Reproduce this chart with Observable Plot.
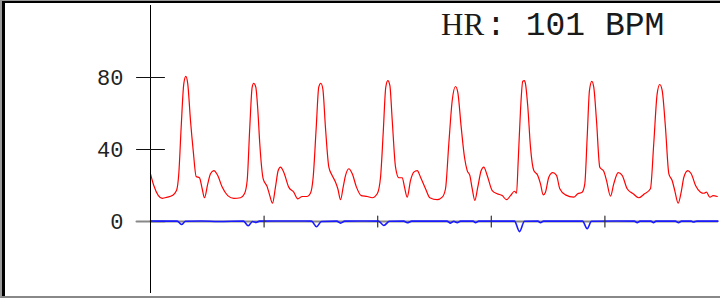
<!DOCTYPE html>
<html>
<head>
<meta charset="utf-8">
<script src="https://cdn.jsdelivr.net/npm/d3@7"></script>
<script src="https://cdn.jsdelivr.net/npm/@observablehq/plot@0.6"></script>
<style>
  html, body { margin: 0; padding: 0; background: #fff; }
  #wrap { position: relative; width: 720px; height: 298px; overflow: hidden; }
  #wrap svg { display: block; }
  #frameOuter { position: absolute; left: 0; top: 0; width: 720px; height: 298px; box-sizing: border-box;
    border-top: 1px solid #999; border-left: 2px solid #999; border-bottom: 2px solid #888; pointer-events: none; }
  #frameInner { position: absolute; left: 0; top: 0; right: 0; bottom: 0; box-sizing: border-box;
    border-top: 2px solid #000; border-left: 3px solid #000; }
</style>
</head>
<body>
<div id="wrap"><div id="frameOuter"><div id="frameInner"></div></div></div>
<script>
// ---- data (time in seconds, pressure values) ----
const titleLabel = "HR";
const titleValue = ": 101 BPM";
const yTicks = [0, 40, 80];
const xTicks = [1, 2, 3, 4];

const redT = [0.000,0.029,0.103,0.147,0.191,0.229,0.249,0.270,0.293,0.311,0.328,0.352,0.376,0.402,0.431,0.455,0.475,0.504,0.528,0.557,0.592,0.631,0.680,0.733,0.792,0.827,0.851,0.874,0.895,0.909,0.927,0.945,0.962,0.992,1.027,1.050,1.074,1.100,1.124,1.144,1.173,1.217,1.261,1.297,1.335,1.379,1.408,1.432,1.459,1.481,1.499,1.517,1.540,1.570,1.599,1.629,1.649,1.673,1.696,1.717,1.746,1.776,1.813,1.855,1.908,1.952,1.996,2.025,2.048,2.071,2.089,2.107,2.128,2.157,2.186,2.216,2.236,2.260,2.289,2.318,2.348,2.377,2.421,2.459,2.524,2.568,2.597,2.626,2.656,2.685,2.705,2.735,2.764,2.788,2.811,2.832,2.855,2.881,2.911,2.934,2.964,3.008,3.052,3.096,3.134,3.169,3.204,3.222,3.237,3.257,3.277,3.292,3.301,3.321,3.345,3.374,3.409,3.433,3.457,3.477,3.506,3.541,3.574,3.603,3.653,3.726,3.761,3.800,3.823,3.844,3.864,3.885,3.902,3.926,3.955,3.990,4.014,4.049,4.078,4.117,4.152,4.196,4.249,4.298,4.349,4.401,4.430,4.460,4.483,4.504,4.533,4.563,4.592,4.615,4.645,4.674,4.695,4.730,4.760,4.798,4.842,4.871,4.894,4.924,4.953,4.989];
const redV = [26.5,20.0,12.9,13.5,14.4,17.2,26.5,52.4,76.5,80.6,76.5,56.1,39.4,25.0,24.3,18.2,13.2,20.9,26.5,28.3,25.6,19.1,14.4,12.9,13.2,15.4,22.8,52.4,74.6,76.8,74.6,61.7,43.2,23.7,19.4,14.4,10.2,19.1,28.3,30.2,27.4,19.1,16.3,12.6,13.9,13.9,15.7,24.6,52.4,74.6,76.8,73.7,52.4,30.2,25.6,21.8,18.2,12.1,19.1,25.6,29.3,26.5,19.1,14.4,13.9,13.2,15.4,24.6,48.7,74.6,78.3,75.6,56.1,30.2,24.3,24.3,19.1,13.5,22.8,27.4,28.3,24.6,18.2,13.2,12.1,13.5,18.2,43.2,67.2,75.0,71.8,52.4,35.7,28.3,25.6,18.2,11.7,19.1,28.3,30.2,25.6,17.2,15.4,14.4,12.1,14.4,16.8,15.7,33.9,61.7,77.9,78.3,76.5,64.0,41.3,28.3,25.6,20.9,14.8,16.3,24.6,27.1,25.6,18.2,14.8,13.5,15.4,16.3,20.9,46.8,72.8,77.9,74.6,56.1,30.2,27.9,22.8,14.1,20.9,27.1,25.6,18.2,15.4,13.2,15.4,18.2,43.2,70.9,76.1,72.8,52.4,26.5,22.8,17.2,10.2,17.2,24.6,28.3,26.5,20.0,16.3,15.7,16.3,13.5,14.4,13.9];

const blueT = [0.000,0.120,0.235,0.273,0.308,0.450,0.600,0.819,0.860,0.898,0.930,0.960,1.150,1.417,1.461,1.505,1.640,1.673,1.710,1.900,2.007,2.054,2.104,2.230,2.260,2.300,2.610,2.641,2.670,2.700,2.730,2.840,2.861,2.890,3.204,3.248,3.292,3.410,3.433,3.460,3.803,3.844,3.882,4.100,4.260,4.284,4.310,4.405,4.428,4.450,4.620,4.648,4.675,4.760,4.780,4.810,4.995];
const blueV = [0.3,0.2,0.2,-1.7,0.1,0.3,0.0,0.2,-2.4,0.0,-0.5,0.2,0.3,0.2,-2.9,0.0,0.2,-0.9,0.2,0.3,0.2,-2.2,0.1,0.2,-0.7,0.2,0.2,-0.9,0.1,-0.6,0.2,0.2,-0.6,0.2,0.2,-5.6,0.1,0.2,-0.6,0.2,0.2,-4.0,0.1,0.3,0.2,-0.6,0.2,0.2,-0.6,0.2,0.2,-0.6,0.2,0.2,-0.3,0.2,0.2];

const red = redT.map((t, i) => ({t, v: redV[i]}));
const blue = blueT.map((t, i) => ({t, v: blueV[i]}));

const tickShape = {draw(context, l) { context.moveTo(0, 0); context.lineTo(0, -l); }};

const chart = Plot.plot({
  width: 720,
  height: 298,
  marginLeft: 150,
  marginRight: 2,
  marginTop: 5,
  marginBottom: 5,
  x: {domain: [0, 5], axis: null, label: null},
  y: {domain: [-40, 120], axis: null, label: null},
  style: {background: "transparent", overflow: "visible"},
  marks: [
    Plot.ruleY([0], {stroke: "#888", strokeWidth: 2}),
    Plot.vector([0], {x: 0, y: d => d, length: 28, rotate: 90, anchor: "middle", shape: tickShape, stroke: "#888", strokeWidth: 2}),
    Plot.line(blue, {x: "t", y: "v", stroke: "#1a1aff", strokeWidth: 1.6, curve: "monotone-x"}),
    Plot.vector(xTicks, {x: d => d, y: 0, length: 11, anchor: "middle", shape: tickShape, stroke: "#333", strokeWidth: 1.2}),
    Plot.line(red, {x: "t", y: "v", stroke: "#ff0000", strokeWidth: 1.2, curve: "monotone-x"}),
    Plot.ruleX([0], {stroke: "#000", strokeWidth: 1}),
    Plot.vector(yTicks.filter(d => d !== 0), {x: 0, y: d => d, length: 28, rotate: 90, anchor: "middle", shape: tickShape, stroke: "#111", strokeWidth: 1}),
    Plot.axisY(yTicks, {anchor: "left", tickSize: 0, tickPadding: 27, fontSize: 22, fontFamily: "Liberation Mono", color: "#222", label: null})
  ]
});

const wrap = document.getElementById("wrap");
wrap.insertBefore(chart, wrap.firstChild);

const title = d3.select(chart).append("text")
  .attr("x", 441)
  .attr("y", 34.5)
  .attr("text-anchor", "start")
  .attr("fill", "#1a1a1a");
title.append("tspan")
  .attr("font-family", "Liberation Serif, Times New Roman, serif")
  .attr("font-size", 31)
  .text(titleLabel);
title.append("tspan")
  .attr("font-family", "Liberation Mono, Courier New, monospace")
  .attr("font-size", 33)
  .attr("dx", 2)
  .style("white-space", "pre")
  .text(titleValue);
</script>
</body>
</html>
